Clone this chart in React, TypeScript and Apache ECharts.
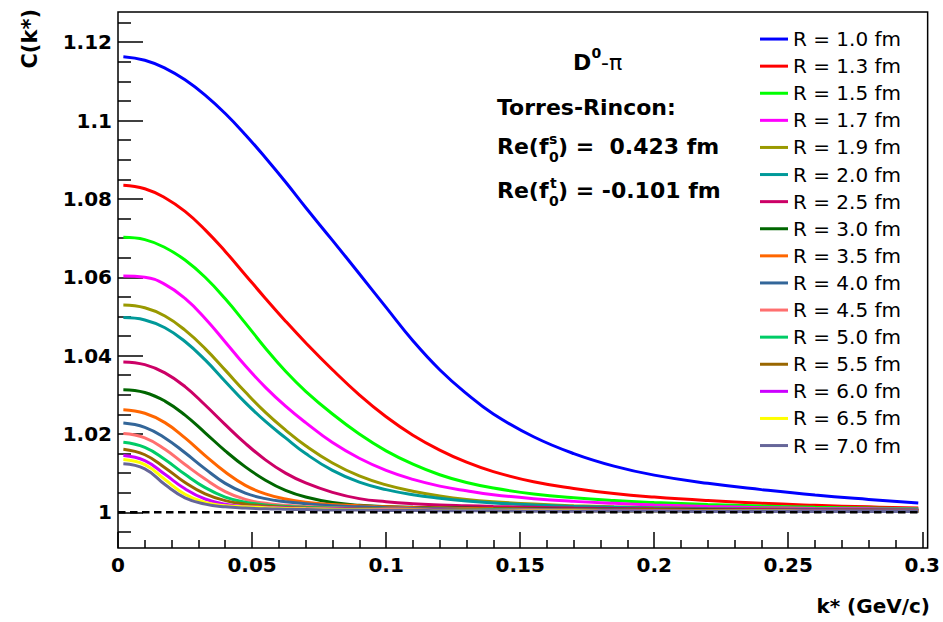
import React, { useEffect, useRef } from "react";
import * as echarts from "echarts";

const kValues = [0.002, 0.01, 0.0175, 0.025, 0.0325, 0.04, 0.0475, 0.055, 0.0625, 0.07, 0.08, 0.09, 0.1, 0.11, 0.12, 0.13, 0.14, 0.155, 0.17, 0.185, 0.2, 0.22, 0.24, 0.26, 0.28, 0.2985];

const cR10 = [1.1163, 1.1154, 1.1134, 1.1104, 1.1065, 1.1018, 1.0964, 1.0905, 1.0843, 1.0778, 1.0694, 1.0609, 1.0523, 1.0438, 1.0364, 1.0303, 1.0251, 1.0193, 1.0150, 1.0118, 1.0095, 1.0074, 1.0058, 1.0044, 1.0033, 1.0024];
const cR13 = [1.0835, 1.0826, 1.0803, 1.0768, 1.0721, 1.0666, 1.0606, 1.0546, 1.0488, 1.0433, 1.0364, 1.0300, 1.0244, 1.0197, 1.0159, 1.0128, 1.0104, 1.0078, 1.0061, 1.0048, 1.0039, 1.0030, 1.0023, 1.0018, 1.0014, 1.0011];
const cR15 = [1.0702, 1.0696, 1.0676, 1.0644, 1.0600, 1.0545, 1.0483, 1.0419, 1.0360, 1.0309, 1.0251, 1.0200, 1.0157, 1.0123, 1.0096, 1.0076, 1.0062, 1.0047, 1.0037, 1.0030, 1.0025, 1.0020, 1.0016, 1.0013, 1.0011, 1.0009];
const cR17 = [1.0603, 1.0600, 1.0582, 1.0546, 1.0495, 1.0435, 1.0374, 1.0319, 1.0271, 1.0229, 1.0178, 1.0138, 1.0107, 1.0084, 1.0067, 1.0055, 1.0045, 1.0035, 1.0028, 1.0023, 1.0019, 1.0015, 1.0012, 1.0010, 1.0009, 1.0008];
const cR19 = [1.0529, 1.0522, 1.0501, 1.0465, 1.0418, 1.0363, 1.0307, 1.0255, 1.0210, 1.0170, 1.0126, 1.0093, 1.0070, 1.0054, 1.0042, 1.0033, 1.0027, 1.0021, 1.0017, 1.0014, 1.0012, 1.0010, 1.0009, 1.0008, 1.0007, 1.0006];
const cR20 = [1.0497, 1.0491, 1.0471, 1.0436, 1.0389, 1.0334, 1.0280, 1.0232, 1.0190, 1.0150, 1.0107, 1.0077, 1.0058, 1.0045, 1.0036, 1.0029, 1.0024, 1.0019, 1.0015, 1.0013, 1.0011, 1.0009, 1.0008, 1.0007, 1.0006, 1.0006];
const cR25 = [1.0384, 1.0377, 1.0356, 1.0321, 1.0274, 1.0224, 1.0176, 1.0134, 1.0100, 1.0075, 1.0051, 1.0035, 1.0027, 1.0022, 1.0019, 1.0017, 1.0015, 1.0013, 1.0011, 1.0010, 1.0009, 1.0008, 1.0007, 1.0006, 1.0006, 1.0005];
const cR30 = [1.0313, 1.0306, 1.0284, 1.0248, 1.0203, 1.0157, 1.0116, 1.0082, 1.0056, 1.0039, 1.0025, 1.0018, 1.0015, 1.0013, 1.0012, 1.0011, 1.0010, 1.0009, 1.0008, 1.0008, 1.0007, 1.0006, 1.0005, 1.0005, 1.0004, 1.0004];
const cR35 = [1.0262, 1.0253, 1.0229, 1.0190, 1.0145, 1.0103, 1.0069, 1.0047, 1.0034, 1.0026, 1.0020, 1.0017, 1.0014, 1.0012, 1.0011, 1.0010, 1.0009, 1.0008, 1.0007, 1.0006, 1.0006, 1.0005, 1.0005, 1.0004, 1.0004, 1.0004];
const cR40 = [1.0228, 1.0217, 1.0190, 1.0152, 1.0111, 1.0074, 1.0049, 1.0035, 1.0027, 1.0022, 1.0017, 1.0014, 1.0012, 1.0010, 1.0009, 1.0008, 1.0007, 1.0007, 1.0006, 1.0006, 1.0005, 1.0005, 1.0004, 1.0004, 1.0004, 1.0003];
const cR45 = [1.0201, 1.0190, 1.0161, 1.0122, 1.0085, 1.0053, 1.0033, 1.0023, 1.0018, 1.0015, 1.0012, 1.0010, 1.0009, 1.0008, 1.0007, 1.0007, 1.0006, 1.0006, 1.0005, 1.0005, 1.0005, 1.0004, 1.0004, 1.0004, 1.0003, 1.0003];
const cR50 = [1.0179, 1.0166, 1.0135, 1.0097, 1.0063, 1.0039, 1.0026, 1.0019, 1.0015, 1.0013, 1.0011, 1.0009, 1.0008, 1.0007, 1.0007, 1.0006, 1.0006, 1.0005, 1.0005, 1.0005, 1.0004, 1.0004, 1.0004, 1.0003, 1.0003, 1.0003];
const cR55 = [1.0161, 1.0147, 1.0114, 1.0076, 1.0047, 1.0030, 1.0021, 1.0016, 1.0013, 1.0011, 1.0010, 1.0009, 1.0008, 1.0007, 1.0006, 1.0006, 1.0005, 1.0005, 1.0005, 1.0004, 1.0004, 1.0004, 1.0003, 1.0003, 1.0003, 1.0003];
const cR60 = [1.0145, 1.0132, 1.0097, 1.0060, 1.0034, 1.0021, 1.0015, 1.0013, 1.0011, 1.0010, 1.0009, 1.0008, 1.0007, 1.0006, 1.0006, 1.0005, 1.0005, 1.0005, 1.0004, 1.0004, 1.0004, 1.0003, 1.0003, 1.0003, 1.0003, 1.0003];
const cR65 = [1.0135, 1.0122, 1.0084, 1.0046, 1.0025, 1.0017, 1.0014, 1.0012, 1.0010, 1.0009, 1.0008, 1.0007, 1.0006, 1.0006, 1.0005, 1.0005, 1.0004, 1.0004, 1.0004, 1.0003, 1.0003, 1.0003, 1.0003, 1.0002, 1.0002, 1.0002];
const cR70 = [1.0124, 1.0111, 1.0071, 1.0037, 1.0021, 1.0014, 1.0011, 1.0009, 1.0008, 1.0007, 1.0006, 1.0006, 1.0005, 1.0005, 1.0004, 1.0004, 1.0004, 1.0003, 1.0003, 1.0003, 1.0003, 1.0002, 1.0002, 1.0002, 1.0002, 1.0002];

const seriesNames = ["R = 1.0 fm", "R = 1.3 fm", "R = 1.5 fm", "R = 1.7 fm", "R = 1.9 fm", "R = 2.0 fm", "R = 2.5 fm", "R = 3.0 fm", "R = 3.5 fm", "R = 4.0 fm", "R = 4.5 fm", "R = 5.0 fm", "R = 5.5 fm", "R = 6.0 fm", "R = 6.5 fm", "R = 7.0 fm"];
const seriesValues = [cR10, cR13, cR15, cR17, cR19, cR20, cR25, cR30, cR35, cR40, cR45, cR50, cR55, cR60, cR65, cR70];
const seriesColors = ["#0000ff", "#ff0000", "#00ff00", "#ff00ff", "#999900", "#009999", "#cc0066", "#006600", "#ff6600", "#336699", "#ff6f6f", "#00cc66", "#996600", "#cc00ff", "#ffff00", "#666699"];

// reference line C(k*) = 1
const baselineK = [0, 0.2985];
const baselineC = [1, 1];

const xMajorTicks = [0, 0.05, 0.1, 0.15, 0.2, 0.25, 0.3];
const xMinorTicks = [0.01, 0.02, 0.03, 0.04, 0.06, 0.07, 0.08, 0.09, 0.11, 0.12, 0.13, 0.14, 0.16, 0.17, 0.18, 0.19, 0.21, 0.22, 0.23, 0.24, 0.26, 0.27, 0.28, 0.29];
const yMajorTicks = [1, 1.02, 1.04, 1.06, 1.08, 1.1, 1.12];
const yMinorTicks = [0.995, 1.005, 1.01, 1.015, 1.025, 1.03, 1.035, 1.045, 1.05, 1.055, 1.065, 1.07, 1.075, 1.085, 1.09, 1.095, 1.105, 1.11, 1.115, 1.125];

const X_MIN = 0;
const X_MAX = 0.302;
const Y_MIN = 0.9909;
const Y_MAX = 1.1277;

const FONT = '"DejaVu Sans", "Liberation Sans", Arial, sans-serif';
const fmt = (v: number) => String(parseFloat(Number(v).toFixed(3)));

export default function App() {
  const ref = useRef<HTMLDivElement>(null);
  useEffect(() => {
    document.body.style.margin = "0";
    const chart = echarts.init(ref.current!, null, { renderer: "svg" });
    const tickStyle = { color: "#000", width: 1.5 };
    const series: any[] = seriesValues.map((vals, i) => ({
      type: "line",
      name: seriesNames[i],
      data: kValues.map((k, j) => [k, vals[j]]),
      smooth: 0.45,
      showSymbol: false,
      symbol: "none",
      lineStyle: { width: 3, color: seriesColors[i] },
      itemStyle: { color: seriesColors[i] },
      silent: true,
    }));
    series.push({
      type: "line",
      name: "baseline",
      data: baselineK.map((k, j) => [k, baselineC[j]]),
      showSymbol: false,
      symbol: "none",
      lineStyle: { width: 2.5, color: "#000", type: [7.5, 4.5] },
      silent: true,
    });
    const t = (text: string, x: number, y: number, font: string, extra: any = {}) => ({
      type: "text",
      x,
      y,
      ...extra,
      style: {
        text,
        font,
        fill: "#000",
        textAlign: extra.textAlign || "left",
        textVerticalAlign: "middle",
      },
    });
    const big = `bold 22px ${FONT}`;
    const small = `bold 14px ${FONT}`;
    chart.setOption({
      animation: false,
      backgroundColor: "#ffffff",
      grid: {
        left: 118,
        top: 12,
        right: 12.5,
        bottom: 74,
        show: true,
        borderColor: "#000",
        borderWidth: 1.5,
        backgroundColor: "transparent",
      },
      legend: {
        orient: "vertical",
        left: 760,
        top: 25.5,
        padding: 0,
        itemGap: 0,
        itemWidth: 28,
        itemHeight: 3,
        icon: "rect",
        selectedMode: false,
        data: seriesNames,
        textStyle: { fontFamily: FONT, fontSize: 20, color: "#000", lineHeight: 27.1 },
      },
      xAxis: [
        {
          type: "value",
          min: X_MIN,
          max: X_MAX,
          axisLine: { show: false },
          splitLine: { show: false },
          axisTick: { show: true, inside: true, length: 16, customValues: xMajorTicks, lineStyle: tickStyle },
          axisLabel: {
            customValues: xMajorTicks,
            formatter: fmt,
            fontFamily: FONT,
            fontWeight: "bold",
            fontSize: 20,
            color: "#000",
            margin: 7,
          },
        },
        {
          type: "value",
          min: X_MIN,
          max: X_MAX,
          position: "bottom",
          axisLine: { show: false },
          splitLine: { show: false },
          axisTick: { show: true, inside: true, length: 8, customValues: xMinorTicks, lineStyle: tickStyle },
          axisLabel: { show: false },
        },
      ],
      yAxis: [
        {
          type: "value",
          min: Y_MIN,
          max: Y_MAX,
          axisLine: { show: false },
          splitLine: { show: false },
          axisTick: { show: true, inside: true, length: 25, customValues: yMajorTicks, lineStyle: tickStyle },
          axisLabel: {
            customValues: yMajorTicks,
            formatter: fmt,
            fontFamily: FONT,
            fontWeight: "bold",
            fontSize: 20,
            color: "#000",
            margin: 6,
          },
        },
        {
          type: "value",
          min: Y_MIN,
          max: Y_MAX,
          position: "left",
          axisLine: { show: false },
          splitLine: { show: false },
          axisTick: { show: true, inside: true, length: 13, customValues: yMinorTicks, lineStyle: tickStyle },
          axisLabel: { show: false },
        },
      ],
      series,
      graphic: [
        t("D", 573, 62, big),
        t("0", 591.5, 53, small),
        t("-π", 601, 62, `22px ${FONT}`),
        t("Torres-Rincon:", 497, 107, big),
        t("Re(f", 497, 146, big),
        t("s", 549, 139, small),
        t("0", 549, 157, small),
        t(") =  0.423 fm", 558, 146, big),
        t("Re(f", 497, 190, big),
        t("t", 550, 183, small),
        t("0", 549, 201, small),
        t(") = -0.101 fm", 558, 190, big),
        t("k* (GeV/c)", 930, 606, `bold 20px ${FONT}`, { textAlign: "right" }),
        t("C(k*)", 30, 9, `bold 21px ${FONT}`, { textAlign: "right", rotation: Math.PI / 2 }),
      ],
    });
    return () => chart.dispose();
  }, []);
  return <div ref={ref} style={{ position: "fixed", left: 0, top: 0, width: 943, height: 622 }} />;
}
